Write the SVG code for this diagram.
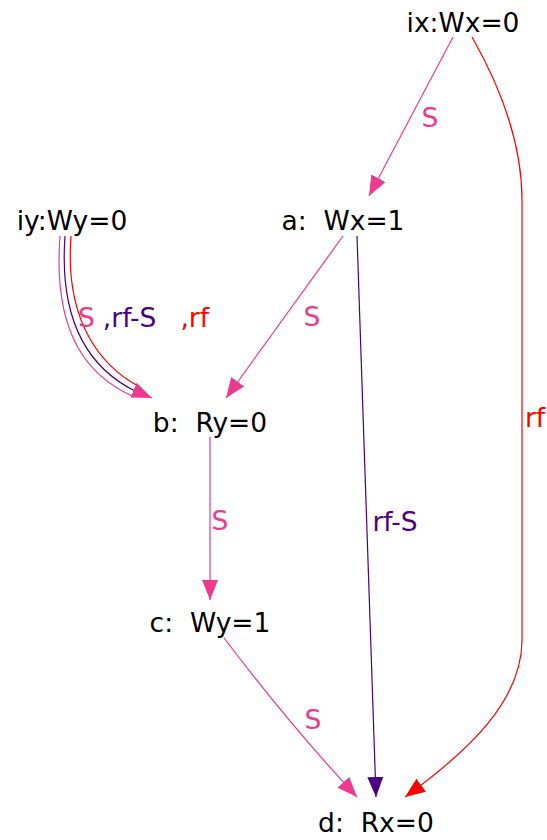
<svg xmlns="http://www.w3.org/2000/svg" width="547" height="840" viewBox="0 0 547 840">
<style>
text{font-family:"DejaVu Sans",sans-serif;font-size:26.5px;white-space:pre;}
.n{fill:#000;text-anchor:middle}
.e{fill:none;stroke-width:1.2}
.pk{stroke:#EE3A8C}.pu{stroke:#4B0082}.rd{stroke:#FF0000}
.tpk{fill:#EE3A8C}.tpu{fill:#4B0082}.trd{fill:#FF0000}
</style>
<defs>
<marker id="apk" markerUnits="userSpaceOnUse" markerWidth="22" markerHeight="18" refX="20" refY="8" orient="auto"><path d="M0,0 L20,8 L0,16 z" fill="#EE3A8C"/></marker>
<marker id="apu" markerUnits="userSpaceOnUse" markerWidth="22" markerHeight="18" refX="20" refY="8" orient="auto"><path d="M0,0 L20,8 L0,16 z" fill="#4B0082"/></marker>
<marker id="ard" markerUnits="userSpaceOnUse" markerWidth="22" markerHeight="18" refX="20" refY="8" orient="auto"><path d="M0,0 L20,8 L0,16 z" fill="#FF0000"/></marker>
</defs>
<g id="edges">
<path class="e pk" d="M453,37 L369,196" marker-end="url(#apk)"/>
<text class="tpk" x="430" y="127" text-anchor="middle">S</text>
<path class="e rd" d="M472,37 C505,95 522,150 522,200 L522,640 C522,700 470,750 405,797" marker-end="url(#ard)"/>
<text class="trd" x="535" y="427" text-anchor="middle">rf</text>
<path class="e pk" d="M343,236 L226,398" marker-end="url(#apk)"/>
<text class="tpk" x="312" y="326" text-anchor="middle">S</text>
<path class="e pu" d="M357,236 L376,797" marker-end="url(#apu)"/>
<text class="tpu" x="395" y="531" text-anchor="middle">rf-S</text>
<path class="e pk" d="M60,236 C52,340 93,378 132,396"/>
<path class="e pu" d="M65,236 C58,333 99,373 135,391"/>
<path class="e rd" d="M71,236 C64,326 105,368 138,386"/>
<path class="e pk" d="M133,390 L152,398" marker-end="url(#apk)" stroke-width="0"/>
<text x="78" y="327"><tspan class="tpk">S</tspan><tspan class="tpu" dx="8">,rf-S</tspan><tspan class="trd" dx="24">,rf</tspan></text>
<path class="e pk" d="M210,437 L210,600" marker-end="url(#apk)"/>
<text class="tpk" x="220" y="530" text-anchor="middle">S</text>
<path class="e pk" d="M224,638 Q290,725 357,797" marker-end="url(#apk)"/>
<text class="tpk" x="313" y="729" text-anchor="middle">S</text>
</g>
<g id="ix"><text class="n" x="463" y="32">ix:Wx=0</text></g>
<g id="a"><text class="n" x="343" y="230">a:  Wx=1</text></g>
<g id="iy"><text class="n" x="72" y="230">iy:Wy=0</text></g>
<g id="b"><text class="n" x="210" y="432">b:  Ry=0</text></g>
<g id="c"><text class="n" x="210" y="632">c:  Wy=1</text></g>
<g id="d"><text class="n" x="376" y="832">d:  Rx=0</text></g>
</svg>
